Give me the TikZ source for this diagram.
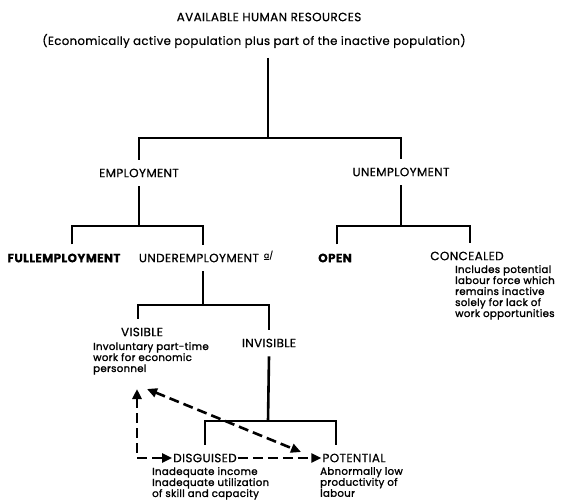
\documentclass[tikz,border=0pt]{standalone}
\usepackage{fontspec}
\setmainfont{Poppins}
\newfontfamily\hd[LetterSpace=3,FakeBold=0.6]{Poppins}
\newfontfamily\hdb[LetterSpace=3,FakeBold=1.6]{Poppins}
\usetikzlibrary{arrows.meta,calc}
\begin{document}
\begin{tikzpicture}[x=1pt,y=-1pt,
  tree/.style={line width=2.6pt},
  head/.style={font=\hd\fontsize{12}{14}\selectfont, inner xsep=1pt, inner ysep=9pt},
  boldhead/.style={head, font=\hd\bfseries\fontsize{12}{14}\selectfont},
  desc/.style={font=\hdb\fontsize{10.2}{11}\selectfont, align=left, inner sep=0pt, anchor=north west},
  dashline/.style={line width=2.6pt, dash pattern=on 10pt off 5pt},
  onearrow/.style={dashline, -{Triangle[length=10pt,width=9pt]}},
  twoarrow/.style={dashline, {Triangle[length=10pt,width=9pt]}-{Triangle[length=10pt,width=9pt]}},
]
\useasboundingbox (0,0) rectangle (564,502);

\node[head] (title) at (269,17) {AVAILABLE\ HUMAN\ RESOURCES};
\node[head, font=\hd\fontsize{11.7}{14}\selectfont] (sub) at (254,41) {(Economically active population plus part of the inactive population)};
\coordinate (t0) at (268,58);
\coordinate (h1) at (268,138);

\node[head] (emp) at (139,173) {EMPLOYMENT};
\node[head] (unemp) at (401,172) {UNEMPLOYMENT};

\coordinate (h2) at (138,226);
\coordinate (h3) at (401,226);
\node[boldhead] (full) at (64,258) {FULLEMPLOYMENT};
\node[head] (under) at (206,258) {UNDEREMPLOYMENT\smash{\raisebox{4pt}{\fontsize{8}{8}\selectfont\hspace{5pt}\underline{a}/}}};
\node[boldhead] (open) at (335,258) {OPEN};
\node[head] (conc) at (467,256) {CONCEALED};
\node[desc] (concd) at (455,265) {Includes potential\\labour force which\\remains inactive\\solely for lack of\\work opportunities};

\coordinate (h4) at (203,305);
\node[head] (vis) at (142,332) {VISIBLE};
\node[desc] (visd) at (93,342) {Involuntary part-time\\work for economic\\personnel};
\node[head] (invis) at (269,343) {INVISIBLE};

\coordinate (h5) at (268,421);
\node[head] (dis) at (205,458) {DISGUISED};
\node[desc] (disd) at (152,467) {Inadequate income\\Inadequate utilization\\of skill and capacity};
\node[head] (pot) at (354,458) {POTENTIAL};
\node[desc] (potd) at (320,467) {Abnormally low\\productivity of\\labour};

% tree
\draw[tree] (t0) -- (h1);
\draw[tree] (emp.north) |- (h1) -| (unemp.north);
\draw[tree] (emp.south) -- (emp.south |- h2);
\draw[tree] ([xshift=8pt]full.north) |- (h2) -| ([xshift=-3pt]under.north);
\draw[tree] (unemp.south) -- (h3);
\draw[tree] ([xshift=2pt]open.north) |- (h3) -| ([xshift=3pt]conc.north);
\draw[tree] ([xshift=-3pt]under.south) -- (h4);
\draw[tree] ([xshift=-4pt]vis.north) |- (h4) -| (invis.north);
\draw[tree] (invis.south) -- (h5);
\draw[tree] (dis.north) |- (h5) -| ([xshift=-18pt]pot.north);

% dashed arrows
\coordinate (va) at (137,389);
\coordinate (da) at (147,389);
\coordinate (db) at (301,452);
\draw[twoarrow] (va) |- (dis.west);
\draw[twoarrow] (da) -- (db);
\draw[onearrow] (dis.east) -- (pot.west);
\end{tikzpicture}
\end{document}
